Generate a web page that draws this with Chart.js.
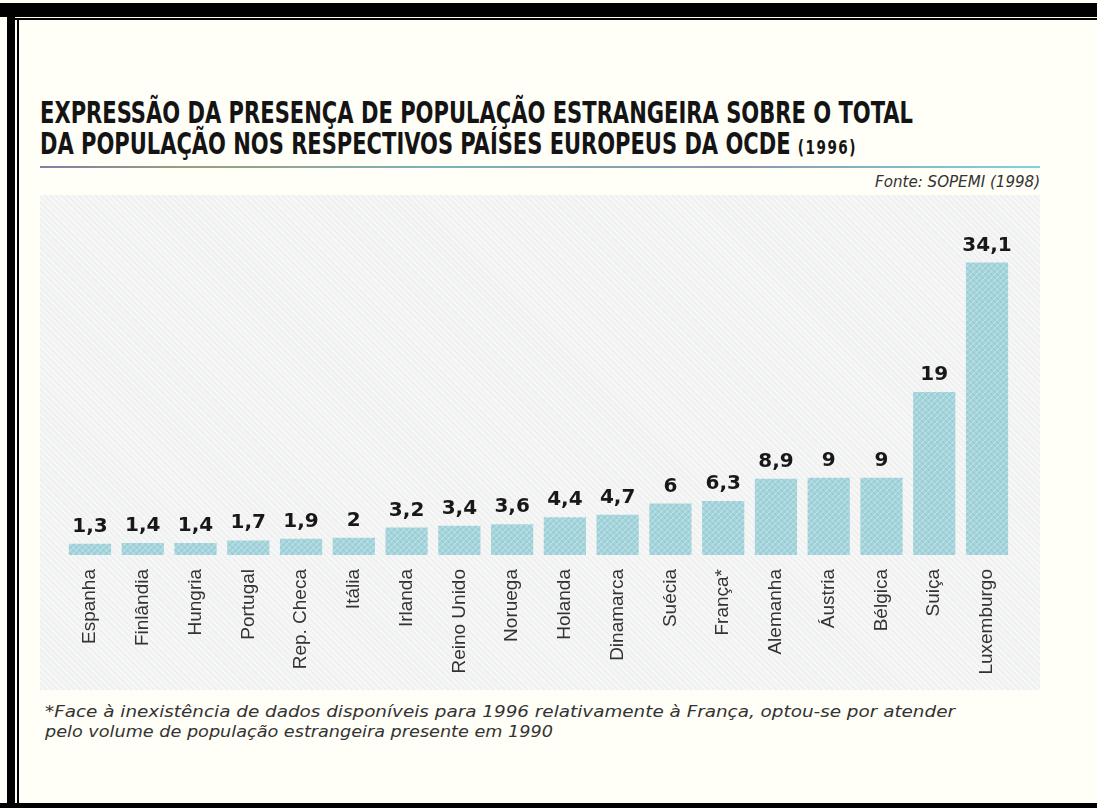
<!DOCTYPE html>
<html><head><meta charset="utf-8">
<script src="https://cdn.jsdelivr.net/npm/chart.js@4/dist/chart.umd.min.js"></script>
<style>
html,body{margin:0;padding:0;width:1097px;height:808px;overflow:hidden;background:#fffef7;position:relative;}
.blk{position:absolute;background:#000;}
#plotbg{position:absolute;left:40px;top:195px;width:1000px;height:495px;
 background:repeating-linear-gradient(45deg,#eff1f1 0 2px,#f6f7f6 2px 4px);}
.title{position:absolute;left:40px;font-family:"Liberation Sans Narrow","DejaVu Sans Condensed","Liberation Sans",sans-serif;font-stretch:condensed;font-weight:bold;font-size:31px;line-height:31px;color:#141414;white-space:nowrap;transform-origin:0 0;}
.title .yr{font-size:20px;letter-spacing:2px;}
#rule{position:absolute;left:40px;top:166px;width:1000px;height:2px;
 background:linear-gradient(90deg,#8b7aa8 0%,#9aa07a 15%,#7fb0b8 40%,#8a98b0 70%,#7fd6d6 100%);}
#fonte{position:absolute;right:57px;top:172px;font-family:"DejaVu Sans",sans-serif;font-style:italic;font-size:16px;color:#333;white-space:nowrap;transform-origin:100% 0;}
.note{position:absolute;left:45px;font-family:"DejaVu Sans",sans-serif;font-style:italic;font-size:16px;line-height:20px;color:#333;white-space:nowrap;transform-origin:0 0;}
#chartwrap{position:absolute;left:0;top:195px;width:1097px;height:510px;}
</style></head>
<body>
<div class="blk" style="left:0;top:3px;width:1097px;height:14px"></div>
<div class="blk" style="left:7px;top:18px;width:1090px;height:2px"></div>
<div class="blk" style="left:7px;top:3px;width:8px;height:805px"></div>
<div class="blk" style="left:17px;top:18px;width:2px;height:785px"></div>
<div class="blk" style="left:0;top:803px;width:1097px;height:5px"></div>
<div id="plotbg"></div>
<div class="title" id="t1" data-w="873" style="top:97px">EXPRESSÃO DA PRESENÇA DE POPULAÇÃO ESTRANGEIRA SOBRE O TOTAL</div>
<div class="title" id="t2" data-w="817" style="top:128px">DA POPULAÇÃO NOS RESPECTIVOS PAÍSES EUROPEUS DA OCDE <span class="yr">(1996)</span></div>
<div id="rule"></div>
<div id="fonte" data-w="165">Fonte: SOPEMI (1998)</div>
<div class="note" data-w="910" style="top:702px">*Face à inexistência de dados disponíveis para 1996 relativamente à França, optou-se por atender</div>
<div class="note" data-w="508" style="top:722px">pelo volume de população estrangeira presente em 1990</div>
<div id="chartwrap"><canvas id="c" width="1097" height="510"></canvas></div>
<script>
const categories = ['Espanha','Finlândia','Hungria','Portugal','Rep. Checa','Itália','Irlanda','Reino Unido','Noruega','Holanda','Dinamarca','Suécia','França*','Alemanha','Áustria','Bélgica','Suiça','Luxemburgo'];
const values = [1.3,1.4,1.4,1.7,1.9,2,3.2,3.4,3.6,4.4,4.7,6,6.3,8.9,9,9,19,34.1];
const yMin = 0;
const yMax = 40;

function fitAll(){
  document.querySelectorAll('[data-w]').forEach(el=>{
    el.style.transform='none';
    const w = el.getBoundingClientRect().width;
    const t = parseFloat(el.dataset.w);
    el.style.transform = 'scaleX(' + (t/w) + ')';
  });
}

function makePattern(){
  const p = document.createElement('canvas');
  p.width = 6; p.height = 6;
  const g = p.getContext('2d');
  g.fillStyle = '#a4d3e4'; g.fillRect(0,0,6,6);
  g.strokeStyle = '#c2e2ea'; g.lineWidth = 1.1;
  g.beginPath();
  g.moveTo(-1,7); g.lineTo(7,-1);
  g.moveTo(-1,1); g.lineTo(1,-1);
  g.moveTo(5,7); g.lineTo(7,5);
  g.stroke();
  g.strokeStyle = 'rgba(140,200,160,0.55)';
  g.beginPath();
  g.moveTo(-1,-1); g.lineTo(7,7);
  g.stroke();
  return g.createPattern(p,'repeat');
}

const valueLabels = {
  id:'valueLabels',
  afterDatasetsDraw(chart){
    const ctx = chart.ctx;
    const meta = chart.getDatasetMeta(0);
    ctx.save();
    ctx.font = 'bold 20px "DejaVu Sans", sans-serif';
    ctx.fillStyle = '#181818';
    ctx.textAlign = 'center';
    ctx.textBaseline = 'alphabetic';
    meta.data.forEach((bar,i)=>{
      ctx.fillText(String(values[i]).replace('.', ','), bar.x, bar.y - 12);
    });
    ctx.restore();
  }
};

function draw(){
  fitAll();
  new Chart(document.getElementById('c'), {
    type:'bar',
    data:{labels:categories, datasets:[{data:values, backgroundColor:makePattern(), borderWidth:0, barPercentage:0.8, categoryPercentage:1}]},
    options:{
      responsive:false, animation:false,
      layout:{padding:{left:63.6, right:83.6, top:17, bottom:0}},
      plugins:{legend:{display:false}, tooltip:{enabled:false}, title:{display:false}},
      scales:{
        y:{display:false, min:yMin, max:yMax},
        x:{
          grid:{display:false, drawTicks:false}, border:{display:false},
          afterFit(scale){ scale.height = 150; },
          ticks:{minRotation:90, maxRotation:90, padding:14, color:'#333333',
            font:{family:'"Liberation Sans", Arial, sans-serif', size:19}}
        }
      }
    },
    plugins:[valueLabels]
  });
}
if (document.fonts && document.fonts.ready) document.fonts.ready.then(draw); else draw();
</script>
</body></html>
